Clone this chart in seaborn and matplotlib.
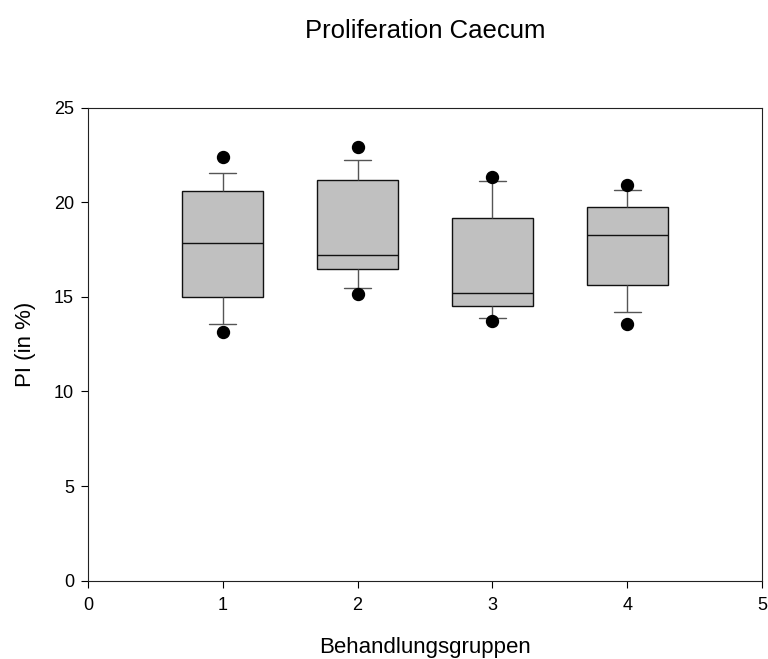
import numpy as np
import pandas as pd
import matplotlib
matplotlib.use("Agg")
import matplotlib.pyplot as plt
import seaborn as sns

# Values
groups = [1, 2, 3, 4]
outlier_low = [13.14, 15.14, 13.73, 13.55]
whisker_low = [13.55, 15.47, 13.88, 14.22]
q1 = [14.98, 16.47, 14.50, 15.61]
median = [17.83, 17.23, 15.22, 18.29]
q3 = [20.61, 21.16, 19.15, 19.77]
whisker_high = [21.55, 22.25, 21.14, 20.67]
outlier_high = [22.38, 22.91, 21.32, 20.90]

rows = []
for i, g in enumerate(groups):
    vals = [outlier_low[i], whisker_low[i], q1[i], q1[i], median[i], median[i],
            median[i], q3[i], q3[i], whisker_high[i], outlier_high[i]]
    for v in vals:
        rows.append({"Behandlungsgruppen": g, "PI": v})
df = pd.DataFrame(rows)

sns.set_style("ticks")
plt.rcParams["font.family"] = ["Liberation Sans", "DejaVu Sans"]
plt.rcParams["text.color"] = "black"
plt.rcParams["axes.labelcolor"] = "black"

fig = plt.figure(figsize=(7.68, 6.59), dpi=100)
ax = fig.add_axes([0.1146, 0.1188, 0.9922 - 0.1146, 0.8366 - 0.1188])

sns.boxplot(
    data=df, x="Behandlungsgruppen", y="PI", native_scale=True,
    width=0.6, whis=(5, 95), color="#c0c0c0", linecolor="#111111",
    linewidth=1.0, fill=True, ax=ax,
    boxprops=dict(facecolor="#c0c0c0", edgecolor="#111111"),
    medianprops=dict(color="#111111", linewidth=1.0),
    whiskerprops=dict(color="#555555", linewidth=1.0),
    capprops=dict(color="#555555", linewidth=1.0),
    flierprops=dict(marker="o", markerfacecolor="black", markeredgecolor="black",
                    markersize=8.6),
)

# Narrow the whisker caps to one third of the box width (as in the reference)
for ln in ax.lines:
    xd = np.asarray(ln.get_xdata(), dtype=float)
    yd = np.asarray(ln.get_ydata(), dtype=float)
    if len(xd) == 2 and np.isclose(yd[0], yd[1]):
        w = abs(xd[1] - xd[0])
        if 0.05 < w < 0.5:
            c = xd.mean()
            ln.set_xdata([c - 0.1, c + 0.1])

ax.set_xlim(0, 5)
ax.set_ylim(0, 25)
ax.set_xticks([0, 1, 2, 3, 4, 5])
ax.set_xticklabels(["0", "1", "2", "3", "4", "5"])
ax.set_yticks([0, 5, 10, 15, 20, 25])
ax.tick_params(axis="both", direction="out", length=5, width=0.8, labelsize=13,
               colors="black")
ax.tick_params(axis="x", pad=6.5)
ax.tick_params(axis="y", pad=5)
for s in ax.spines.values():
    s.set_visible(True)
    s.set_linewidth(0.8)
    s.set_color("#222222")

ax.set_xlabel("Behandlungsgruppen", fontsize=16, va="top", color="black")
ax.set_ylabel("PI (in %)", fontsize=16, color="black")
ax.xaxis.set_label_coords(0.5, -0.119)
ax.yaxis.set_label_coords(-0.077, 0.5)
fig.text(0.5534, 1 - 38 / 659, "Proliferation Caecum", fontsize=18.5,
         ha="center", va="baseline", color="black")

fig.savefig("out.png", dpi=100)
